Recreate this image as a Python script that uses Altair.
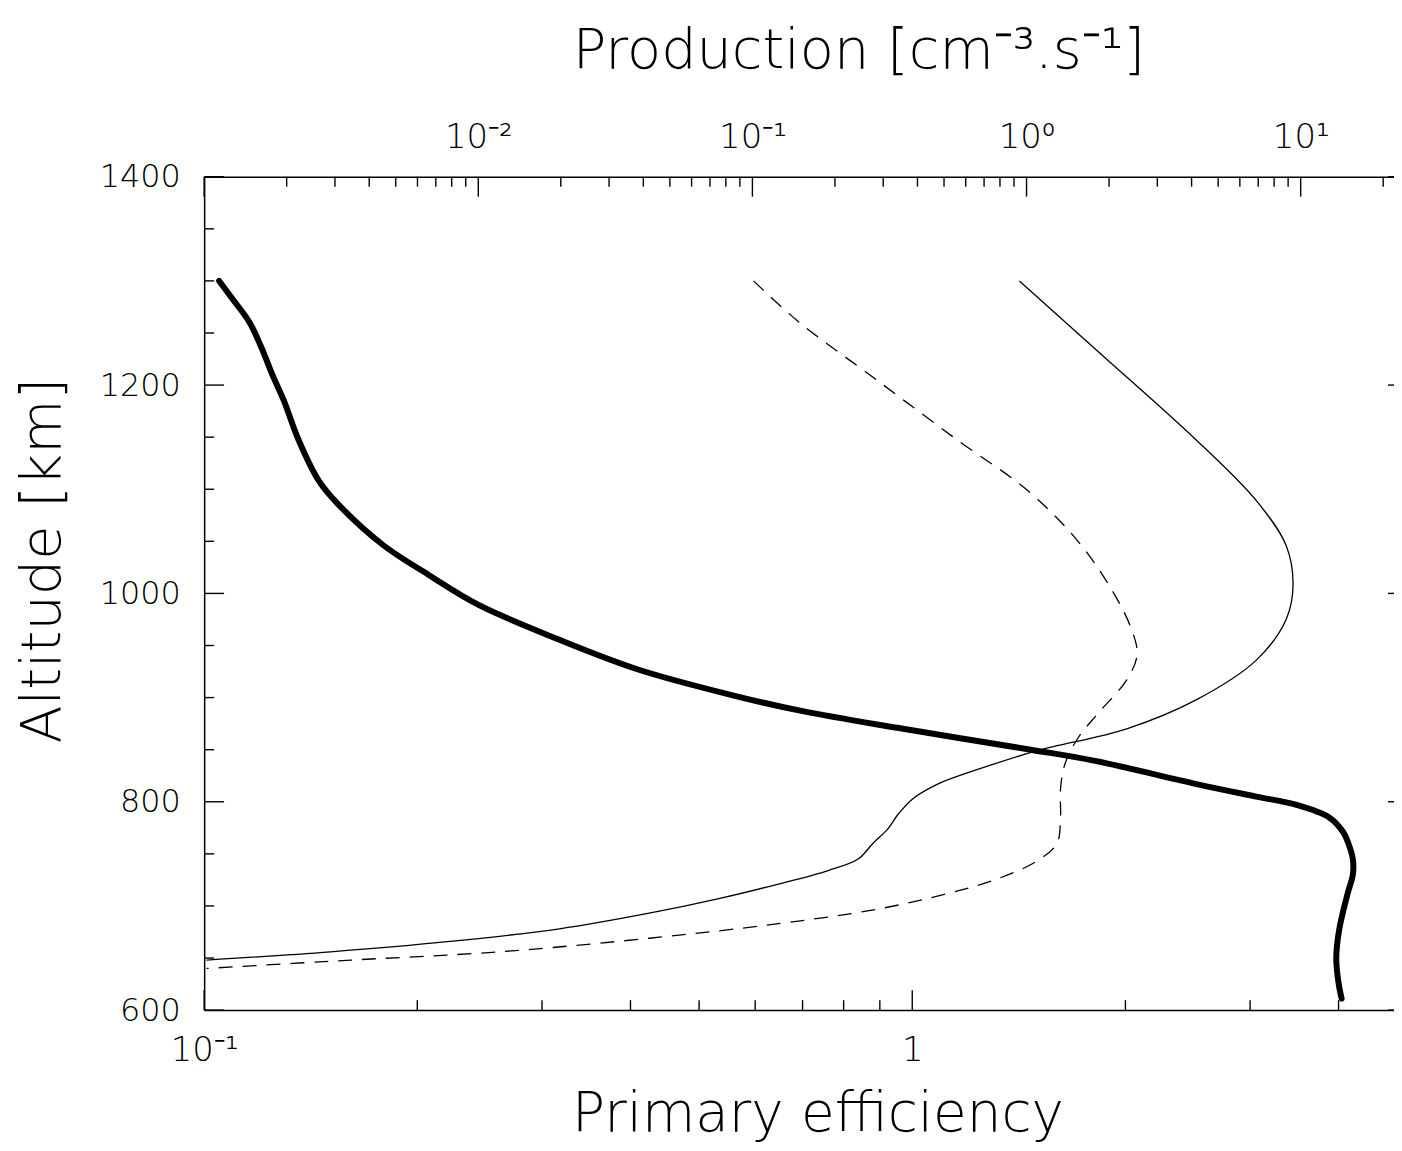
import altair as alt
import pandas as pd

# ---- data ----
# thick curve: primary efficiency (bottom axis) vs altitude
eff_alt = [1300, 1285, 1261, 1237, 1209, 1185, 1147, 1108, 1085, 1046,
           1018, 989, 956, 927, 901, 887, 871, 850, 839, 817,
           805, 797, 785, 771, 760, 745, 730, 712, 678, 650, 626, 611]
eff_val = [0.105, 0.109, 0.1157, 0.1203, 0.1250, 0.1296, 0.136, 0.1452, 0.1549, 0.1793,
           0.2073, 0.2441, 0.3162, 0.41, 0.567, 0.70, 0.952, 1.47, 1.82, 2.52,
           3.06, 3.49, 3.88, 4.06, 4.13, 4.19, 4.19, 4.12, 4.01, 3.97, 4.00, 4.04]

# thin solid curve: production (top axis)
sol_alt = [1300, 1233, 1147, 1089, 1046, 1008, 975, 936, 898, 870,
           849, 831, 817, 803, 788, 774, 760, 745, 734, 721,
           707, 693, 678, 666, 656, 648]
sol_val = [0.942, 1.81, 4.17, 6.89, 8.85, 9.38, 8.85, 6.89, 4.17, 2.32,
           1.094, 0.663, 0.474, 0.385, 0.340, 0.312, 0.275, 0.243, 0.189, 0.1245,
           0.0754, 0.0420, 0.0198, 0.00788, 0.00289, 0.00102]

# thin dashed curve: production (top axis)
das_alt = [1300, 1261, 1204, 1147, 1099, 1051, 1003, 965, 941, 917,
           884, 860, 836, 812, 784, 760, 743, 726, 712, 697,
           683, 669, 656, 648, 640]
das_val = [0.101, 0.147, 0.287, 0.561, 1.007, 1.53, 2.05, 2.42, 2.53, 2.32,
           1.81, 1.53, 1.38, 1.33, 1.33, 1.29, 1.09, 0.783, 0.516, 0.287,
           0.1245, 0.042, 0.01198, 0.00342, 0.00102]

# tick values
bottom_major = [0.1, 1]
bottom_minor = [0.2, 0.3, 0.4, 0.5, 0.6, 0.7, 0.8, 0.9, 2, 3, 4]
top_major = [0.001, 0.01, 0.1, 1, 10]
top_minor = [m * d for d in [0.001, 0.01, 0.1, 1] for m in range(2, 10)] + [20]
y_major = [600, 800, 1000, 1200, 1400]
y_minor = [650, 700, 750, 850, 900, 950, 1050, 1100, 1150, 1250, 1300, 1350]

W, H = 1195, 837
FONT = "DejaVu Sans"
FW = 200

eff_df = pd.DataFrame({"alt": eff_alt, "v": eff_val, "i": range(len(eff_alt))})
sol_df = pd.DataFrame({"alt": sol_alt, "v": sol_val, "i": range(len(sol_alt))})
das_df = pd.DataFrame({"alt": das_alt, "v": das_val, "i": range(len(das_alt))})

def bscale():
    return alt.Scale(type="log", domain=[0.1, 4.79], nice=False)

def tscale():
    return alt.Scale(type="log", domain=[0.001, 21.9], nice=False)

y_scale = alt.Scale(domain=[600, 1400], nice=False, zero=False)

common_axis = dict(ticks=False, grid=False, domain=True, domainColor="black", domainWidth=1.5,
                   labelFont=FONT, labelFontWeight=FW, labelColor="black", labelFlush=False,
                   titleFont=FONT, titleFontWeight=FW, titleColor="black")

bottom_axis = alt.Axis(orient="bottom", values=bottom_major,
                       labelExpr="datum.value < 0.5 ? '10⁻¹' : '1'",
                       labelFontSize=34, labelPadding=24,
                       title="Primary efficiency", titleFontSize=55, titlePadding=20,
                       titleX=616, **common_axis)
top_axis = alt.Axis(orient="top", values=[0.01, 0.1, 1, 10],
                    labelExpr="datum.value < 0.05 ? '10⁻²' : datum.value < 0.5 ? '10⁻¹' : datum.value < 5 ? '10⁰' : '10¹'",
                    labelFontSize=34, labelPadding=22,
                    title="Production [cm⁻³.s⁻¹]", titleFontSize=56, titlePadding=42,
                    titleX=657, **common_axis)
left_axis = alt.Axis(orient="left", values=y_major, format="d", labelFontSize=32, labelPadding=24,
                     title="Altitude [km]", titleFontSize=56, titlePadding=28,
                     titleY=385, **common_axis)

LINE_INTERP = "catmull-rom"

thick = alt.Chart(eff_df).mark_line(color="black", strokeWidth=6, interpolate=LINE_INTERP,
                                    strokeCap="round").encode(
    x=alt.X("v:Q", scale=bscale(), axis=bottom_axis),
    y=alt.Y("alt:Q", scale=y_scale, axis=left_axis),
    order="i:Q",
)

solid = alt.Chart(sol_df).mark_line(color="black", strokeWidth=1.3, interpolate=LINE_INTERP).encode(
    x=alt.X("v:Q", scale=tscale(), axis=top_axis),
    y=alt.Y("alt:Q", scale=y_scale),
    order="i:Q",
)
dashed = alt.Chart(das_df).mark_line(color="black", strokeWidth=1.3, interpolate=LINE_INTERP,
                                     strokeDash=[14, 10]).encode(
    x=alt.X("v:Q", scale=tscale(), axis=None),
    y=alt.Y("alt:Q", scale=y_scale),
    order="i:Q",
)

def xticks(vals, scale, y0, y1):
    return alt.Chart(pd.DataFrame({"t": vals})).mark_rule(color="black", strokeWidth=1.4).encode(
        x=alt.X("t:Q", scale=scale, axis=None), y=alt.value(y0), y2=alt.value(y1))

def yticks(vals, x0, x1):
    return alt.Chart(pd.DataFrame({"t": vals})).mark_rule(color="black", strokeWidth=1.4).encode(
        y=alt.Y("t:Q", scale=y_scale), x=alt.value(x0), x2=alt.value(x1))

chart = alt.layer(
    thick,
    solid,
    dashed,
    xticks(bottom_major, bscale(), H, H - 20),
    xticks(bottom_minor, bscale(), H, H - 10),
    xticks(top_major, tscale(), 0, 20),
    xticks(top_minor, tscale(), 0, 10),
    yticks(y_major, 0, 20),
    yticks(y_minor, 0, 10),
    yticks(y_major, W - 6, W),
).resolve_scale(x="independent").properties(
    width=W, height=H,
    autosize=alt.AutoSizeParams(type="none"),
    padding={"left": 197, "top": 167, "right": 0, "bottom": 131},
    background="white",
).configure_view(stroke=None)

chart.save("out.html", embed_options={"renderer": "svg", "actions": False})
